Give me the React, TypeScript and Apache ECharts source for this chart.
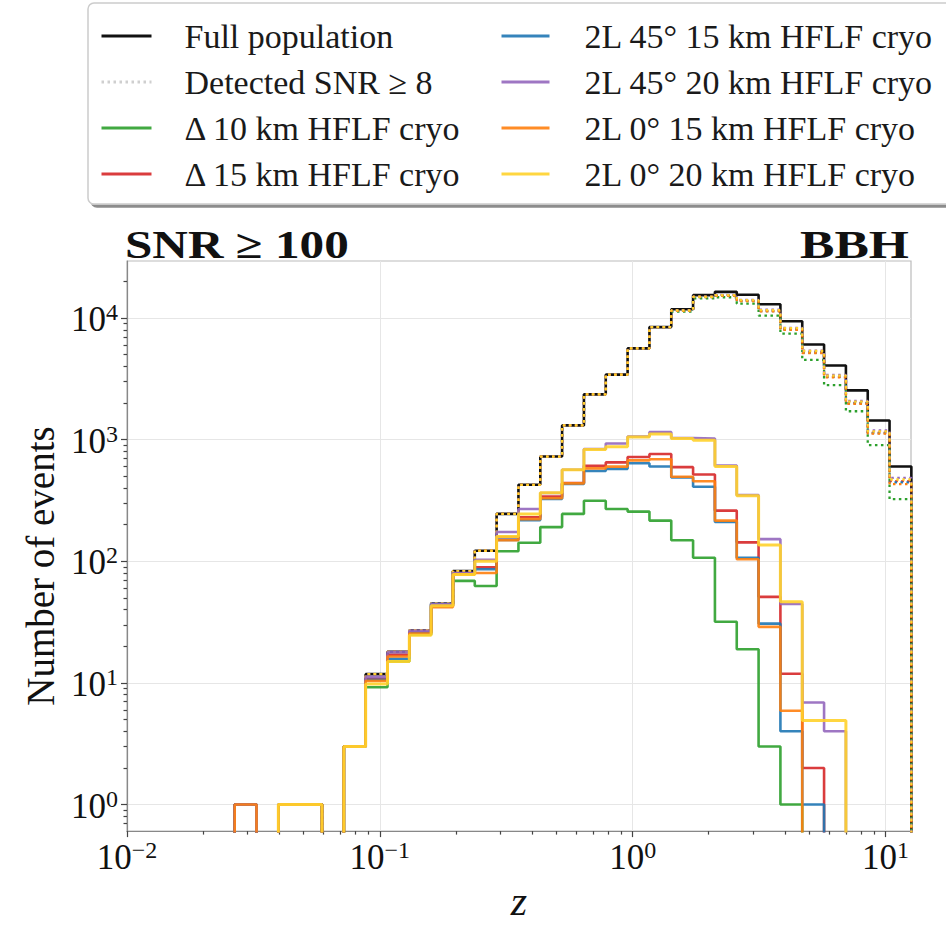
import React, { useEffect, useRef } from "react";
import * as echarts from "echarts";

const FONT = '"Liberation Serif", "Times New Roman", serif';

// Log-spaced redshift bin edges (31 bins)
const binEdges = [
  0.02667, 0.03253, 0.03969, 0.04842, 0.05906, 0.07206, 0.0879, 0.10725, 0.13082, 0.1596,
  0.1947, 0.23748, 0.28974, 0.35345, 0.43122, 0.52603, 0.64172, 0.78288, 0.95521, 1.1655,
  1.4217, 1.7342, 2.1159, 2.5812, 3.1493, 3.8416, 4.687, 5.7176, 6.9759, 8.5103, 10.38, 12.662,
];

const fullPopulation = [1, 0, 1, 1, 0, 3, 11.8, 18, 27, 45, 83, 122, 245, 425, 726, 1309, 2355, 3420, 5620, 8410, 11800, 15400, 16400, 15500, 12970, 9400, 6050, 4070, 2540, 1436, 602];

// Detected SNR >= 8 (dotted), one per detector configuration
const detD10 = [1, 0, 1, 1, 0, 3, 11.8, 18, 27, 45, 83, 122, 245, 425, 726, 1309, 2355, 3420, 5620, 8410, 11300, 14500, 14800, 13100, 10470, 7430, 4520, 2800, 1710, 902, 324];
const detD15 = [1, 0, 1, 1, 0, 3, 11.8, 18, 27, 45, 83, 122, 245, 425, 726, 1309, 2355, 3420, 5620, 8410, 11500, 14900, 15300, 13850, 11450, 8100, 5250, 3300, 2000, 1140, 455];
const det2L45_15 = [1, 0, 1, 1, 0, 3, 11.8, 18, 27, 45, 83, 122, 245, 425, 726, 1309, 2355, 3420, 5620, 8410, 11450, 14850, 15250, 13800, 11400, 8050, 5200, 3280, 1990, 1130, 445];
const det2L45_20 = [1, 0, 1, 1, 0, 3, 11.8, 18, 27, 45, 83, 122, 245, 425, 726, 1309, 2355, 3420, 5620, 8410, 11600, 15000, 15500, 14100, 11700, 8300, 5400, 3400, 2080, 1190, 485];
const det2L0_15 = [1, 0, 1, 1, 0, 3, 11.8, 18, 27, 45, 83, 122, 245, 425, 726, 1309, 2355, 3420, 5620, 8410, 11450, 14850, 15200, 13750, 11350, 8000, 5150, 3250, 1970, 1120, 430];
const det2L0_20 = [1, 0, 1, 1, 0, 3, 11.8, 18, 27, 45, 83, 122, 245, 425, 726, 1309, 2355, 3420, 5620, 8410, 11550, 14950, 15400, 14000, 11600, 8250, 5350, 3360, 2050, 1170, 470];

// SNR >= 100 (solid)
const snrD10 = [1, 0, 1, 1, 0, 3, 9.2, 15, 25, 43, 69, 62.6, 121, 142, 191, 245, 314, 269, 256, 216, 149, 107, 31.8, 18.9, 3, 1, 0, 0, 0, 0, 0];
const snrD15 = [1, 0, 1, 1, 0, 3, 10.8, 17, 26, 43.5, 79, 89, 158, 230, 340, 440, 610, 650, 720, 761, 594, 516, 261, 143, 51, 11.9, 2, 0, 0, 0, 0];
const snr2L45_15 = [1, 0, 1, 1, 0, 3, 10.6, 15.8, 25.8, 44.5, 78.5, 86, 150, 218, 326, 432, 552, 575, 640, 602, 488, 410, 210, 107, 30.7, 4, 1, 0, 0, 0, 0];
const snr2L45_20 = [1, 0, 1, 1, 0, 3, 11.2, 17.9, 26.8, 44.5, 80, 103, 174, 269, 364, 566, 837, 929, 1060, 1156, 1030, 1020, 612, 350, 152, 44.5, 6.9, 4, 0, 0, 0];
const snr2L0_15 = [1, 0, 1, 1, 0, 3, 10.4, 16.5, 25.5, 42, 78, 80, 149, 222, 330, 437, 580, 600, 675, 690, 495, 455, 216, 104, 28.9, 5.9, 0, 0, 0, 0, 0];
const snr2L0_20 = [0, 0, 1, 1, 0, 3, 9.8, 15, 24.7, 43, 78, 100, 160, 245, 366, 566, 830, 873, 1052, 1110, 1020, 990, 602, 345, 136, 46.5, 4.9, 4.9, 0, 0, 0];

const legendNames = [
  "Full population",
  "Detected SNR ≥ 8",
  "Δ 10 km HFLF cryo",
  "Δ 15 km HFLF cryo",
  "2L 45° 15 km HFLF cryo",
  "2L 45° 20 km HFLF cryo",
  "2L 0° 15 km HFLF cryo",
  "2L 0° 20 km HFLF cryo",
];

const xMajor = [0.01, 0.1, 1, 10];
const xMinor = [0.02, 0.03, 0.04, 0.05, 0.06, 0.07, 0.08, 0.09, 0.2, 0.3, 0.4, 0.5, 0.6, 0.7, 0.8, 0.9, 2, 3, 4, 5, 6, 7, 8, 9];
const yMajor = [1, 10, 100, 1000, 10000];
const yMinor = [0.7, 0.8, 0.9, 2, 3, 4, 5, 6, 7, 8, 9, 20, 30, 40, 50, 60, 70, 80, 90, 200, 300, 400, 500, 600, 700, 800, 900, 2000, 3000, 4000, 5000, 6000, 7000, 8000, 9000, 20000];

const X_MIN = 0.01;
const X_MAX = 12.62;
const Y_MIN = 0.605;
const Y_MAX = 29400;

const FLOOR = 1e-3;
function stepData(values: number[]) {
  const pts: [number, number][] = [];
  pts.push([binEdges[0], FLOOR]);
  values.forEach((v, i) => {
    const y = v > 0 ? v : FLOOR;
    pts.push([binEdges[i], y]);
    pts.push([binEdges[i + 1], y]);
  });
  pts.push([binEdges[binEdges.length - 1], FLOOR]);
  return pts;
}

const C = {
  black: "#111111",
  green: "#2ca02c",
  red: "#d62728",
  blue: "#1f77b4",
  purple: "#9467bd",
  orange: "#ff7f0e",
  yellow: "#ffd22b",
};
const DOT: number[] = [2.5, 3.5];

function lineSeries(name: string, values: number[], color: string, width: number, type: any, opacity = 1, z = 2) {
  return {
    type: "line",
    name,
    data: stepData(values),
    symbol: "none",
    showSymbol: false,
    silent: true,
    clip: true,
    xAxisIndex: 0,
    yAxisIndex: 0,
    z,
    itemStyle: { color },
    lineStyle: { color, width, type, opacity, cap: "butt" },
  };
}

function supLabel(v: number) {
  const e = Math.round(Math.log10(v));
  const s = e < 0 ? "−" + Math.abs(e) : String(e);
  return `{b|10}{s|${s}}`;
}

const richSup = {
  b: { fontSize: 35, fontFamily: FONT, color: "#111", verticalAlign: "bottom", lineHeight: 38 },
  s: { fontSize: 24, fontFamily: FONT, color: "#111", verticalAlign: "bottom", lineHeight: 26, padding: [0, 0, 13, 0] },
};

const legendCommon = {
  orient: "vertical",
  top: 16,
  padding: 0,
  itemHeight: 14,
  itemGap: 6,
  selectedMode: false,
  itemStyle: { color: "transparent", borderWidth: 0, opacity: 0 },
  lineStyle: { width: 3 },
};

export default function App() {
  const ref = useRef<HTMLDivElement>(null);
  useEffect(() => {
    if (!ref.current) return;
    const chart = echarts.init(ref.current, undefined, { renderer: "svg" });
    const tickLine = { color: "#444", width: 1.2 };
    const option: any = {
      animation: false,
      backgroundColor: "#ffffff",
      grid: { left: 127, right: 35, top: 261, bottom: 86, show: true, borderColor: "#bbbbbb", borderWidth: 1.2 },
      graphic: [
        {
          type: "rect",
          z: 0,
          shape: { x: 88, y: 3, width: 900, height: 201, r: 6 },
          style: {
            fill: "#ffffff",
            stroke: "#cccccc",
            lineWidth: 1.5,
            shadowColor: "rgba(0,0,0,0.45)",
            shadowOffsetX: 3,
            shadowOffsetY: 3,
            shadowBlur: 0,
          },
        },
        {
          type: "text",
          x: 125,
          y: 245,
          scaleX: 1.23,
          style: { text: "SNR ≥ 100", font: `bold 40px ${FONT}`, fill: "#111", textAlign: "left", textVerticalAlign: "middle" },
        },
        {
          type: "text",
          x: 909,
          y: 245,
          scaleX: 1.29,
          style: { text: "BBH", font: `bold 40px ${FONT}`, fill: "#111", textAlign: "right", textVerticalAlign: "middle" },
        },
      ],
      legend: [
        {
          ...legendCommon,
          data: legendNames.slice(0, 4),
          left: 100,
          itemWidth: 50,
          textStyle: { fontFamily: FONT, fontSize: 34, color: "#1a1a1a", lineHeight: 40, padding: [0, 0, 0, 28] },
        },
        {
          ...legendCommon,
          data: legendNames.slice(4, 8),
          left: 500,
          itemWidth: 48,
          textStyle: { fontFamily: FONT, fontSize: 34, color: "#1a1a1a", lineHeight: 40, padding: [0, 0, 0, 30] },
        },
      ],
      xAxis: [
        {
          type: "log",
          gridIndex: 0,
          min: X_MIN,
          max: X_MAX,
          position: "bottom",
          name: "z",
          nameLocation: "middle",
          nameGap: 40,
          nameTextStyle: { fontFamily: FONT, fontSize: 42, fontStyle: "italic", color: "#111" },
          axisLine: { show: true, lineStyle: { color: "#888", width: 1.2 } },
          axisTick: { show: true, inside: false, length: 6, lineStyle: tickLine, customValues: xMajor },
          axisLabel: { show: true, margin: 6, customValues: xMajor, formatter: supLabel, rich: richSup },
          splitLine: { show: true, lineStyle: { color: "#e6e6e6", width: 1 } },
          minorTick: { show: false },
        },
        {
          type: "log",
          gridIndex: 0,
          min: X_MIN,
          max: X_MAX,
          position: "bottom",
          axisLine: { show: false },
          axisTick: { show: true, inside: false, length: 3.5, lineStyle: tickLine, customValues: xMinor },
          axisLabel: { show: false },
          splitLine: { show: false },
        },
      ],
      yAxis: [
        {
          type: "log",
          gridIndex: 0,
          min: Y_MIN,
          max: Y_MAX,
          position: "left",
          name: "Number of events",
          nameLocation: "middle",
          nameGap: 66,
          nameTextStyle: { fontFamily: FONT, fontSize: 39, color: "#111", padding: [0, 40, 0, 0] },
          axisLine: { show: true, lineStyle: { color: "#888", width: 1.2 } },
          axisTick: { show: true, inside: false, length: 6, lineStyle: tickLine, customValues: yMajor },
          axisLabel: { show: true, margin: 9, customValues: yMajor, formatter: supLabel, rich: richSup },
          splitLine: { show: true, lineStyle: { color: "#e6e6e6", width: 1 } },
        },
        {
          type: "log",
          gridIndex: 0,
          min: Y_MIN,
          max: Y_MAX,
          position: "left",
          axisLine: { show: false },
          axisTick: { show: true, inside: false, length: 3.5, lineStyle: tickLine, customValues: yMinor },
          axisLabel: { show: false },
          splitLine: { show: false },
        },
      ],
      series: [
        lineSeries(legendNames[0], fullPopulation, C.black, 2.6, "solid", 1, 2),
        { type: "line", name: legendNames[1], data: [], symbol: "none", itemStyle: { color: "#cfcfcf" }, lineStyle: { color: "#cfcfcf", width: 2.5, type: DOT } },
        lineSeries("det Δ10", detD10, C.green, 2.3, DOT, 1, 3),
        lineSeries("det Δ15", detD15, C.red, 2.3, DOT, 1, 3),
        lineSeries("det 2L45 15", det2L45_15, C.blue, 2.3, DOT, 1, 3),
        lineSeries("det 2L45 20", det2L45_20, C.purple, 2.3, DOT, 1, 3),
        lineSeries("det 2L0 15", det2L0_15, C.orange, 2.3, DOT, 1, 3),
        lineSeries("det 2L0 20", det2L0_20, C.yellow, 2.3, DOT, 1, 3),
        lineSeries(legendNames[2], snrD10, C.green, 2.6, "solid", 0.9, 4),
        lineSeries(legendNames[3], snrD15, C.red, 2.6, "solid", 0.9, 4),
        lineSeries(legendNames[4], snr2L45_15, C.blue, 2.6, "solid", 0.9, 4),
        lineSeries(legendNames[5], snr2L45_20, C.purple, 2.6, "solid", 0.9, 4),
        lineSeries(legendNames[6], snr2L0_15, C.orange, 2.6, "solid", 0.9, 4),
        lineSeries(legendNames[7], snr2L0_20, C.yellow, 3, "solid", 0.9, 4),
      ],
    };
    chart.setOption(option);
    return () => chart.dispose();
  }, []);
  return <div ref={ref} style={{ position: "fixed", left: 0, top: 0, width: 946, height: 927 }} />;
}
